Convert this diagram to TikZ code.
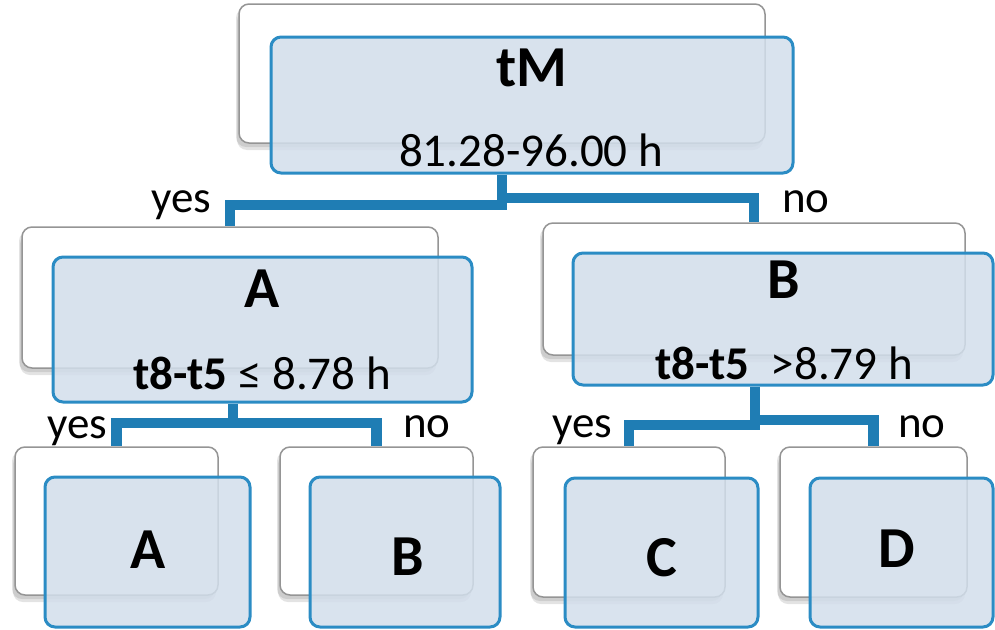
\documentclass[tikz,border=0pt]{standalone}
\usepackage{fontspec}
\setmainfont{Carlito}
\usetikzlibrary{shadows}
\definecolor{bfill}{HTML}{D2DEEB}
\definecolor{bline}{HTML}{2B8CC4}
\definecolor{cline}{HTML}{1F7DB4}
\definecolor{gline}{HTML}{959595}
\begin{document}
\begin{tikzpicture}[x=1pt,y=-1pt,
 wbox/.style={draw=gline, line width=1.5pt, fill=white, rounded corners=10pt, inner sep=0pt,
   drop shadow={shadow xshift=-2pt, shadow yshift=-7pt, opacity=0.22},
   drop shadow={shadow xshift=-3pt, shadow yshift=-4pt, opacity=0.22}},
 fbox/.style={draw=bline, line width=3pt, fill=bfill, fill opacity=0.85, draw opacity=1, rounded corners=10pt, inner sep=0pt},
 conn/.style={draw=cline, line width=10.5pt},
 lab/.style={font=\fontsize{58}{64}\selectfont\bfseries, anchor=base, inner sep=0pt},
 txt/.style={font=\fontsize{47}{56}\selectfont, anchor=base, inner sep=0pt},
 yn/.style={font=\fontsize{45}{54}\selectfont, anchor=base west, inner sep=0pt},
 ]
\useasboundingbox (0,0) rectangle (995,629);
% back (white) boxes
\node[wbox, minimum width=526pt, minimum height=139pt] (tMw) at (502,73.5) {};
\node[wbox, minimum width=416pt, minimum height=141pt] (Aw) at (230,297.5) {};
\node[wbox, minimum width=422pt, minimum height=132pt] (Bw) at (754,289) {};
\node[wbox, minimum width=203pt, minimum height=148pt] (LAw) at (116.5,521) {};
\node[wbox, minimum width=193pt, minimum height=148pt] (LBw) at (376.5,521) {};
\node[wbox, minimum width=192pt, minimum height=150pt] (LCw) at (629,522) {};
\node[wbox, minimum width=187pt, minimum height=150pt] (LDw) at (873.5,522) {};
% front (blue) boxes
\node[fbox, minimum width=522pt, minimum height=136pt] (tMf) at (532,105) {};
\node[fbox, minimum width=419pt, minimum height=145pt] (Af) at (262.5,329.5) {};
\node[fbox, minimum width=420pt, minimum height=132pt] (Bf) at (783,319) {};
\node[fbox, minimum width=205pt, minimum height=150pt] (LAf) at (147.5,552) {};
\node[fbox, minimum width=190pt, minimum height=150pt] (LBf) at (405,552) {};
\node[fbox, minimum width=193pt, minimum height=149pt] (LCf) at (661.5,552.5) {};
\node[fbox, minimum width=183pt, minimum height=149pt] (LDf) at (901.5,552.5) {};
% junctions
\coordinate (j0l) at (502,205);
\coordinate (j0r) at (502,198);
\coordinate (jA) at (233,423);
\coordinate (jBl) at (755,425);
\coordinate (jBr) at (755,420);
% connectors
\draw[conn] (tMf.south -| j0l) -- (j0l) -| (Aw.north);
\draw[conn] (j0l) -- (j0r) -| (Bw.north);
\draw[conn] (Af.south -| jA) -- (jA) -| (LAw.north);
\draw[conn] (jA) -| (LBw.north);
\draw[conn] (Bf.south -| jBl) -- (jBl) -| (LCw.north);
\draw[conn] (jBl) -- (jBr) -| (LDw.north);
% texts
\node[lab] (tMt) at (532,86) {tM};
\node[txt] (tMv) at (531,166) {81.28-96.00 h};
\node[lab] (At) at (262,307) {A};
\node[txt] (Av) at (262,389) {\textbf{t8-t5} ≤ 8.78 h};
\node[lab] (Bt) at (784,298) {B};
\node[txt] (Bv) at (784,379) {\textbf{t8-t5}\ \ >8.79 h};
\node[lab] (LAt) at (148,568) {A};
\node[lab] (LBt) at (408,575) {B};
\node[lab] (LCt) at (662,576) {C};
\node[lab] (LDt) at (897,567) {D};
% yes / no labels
\node[yn] (y0) at (151,212) {yes};
\node[yn] (n0) at (782,212) {no};
\node[yn] (y1) at (47,438) {yes};
\node[yn] (n1) at (403,437) {no};
\node[yn] (y2) at (552,437) {yes};
\node[yn] (n2) at (898,437) {no};
\end{tikzpicture}
\end{document}
